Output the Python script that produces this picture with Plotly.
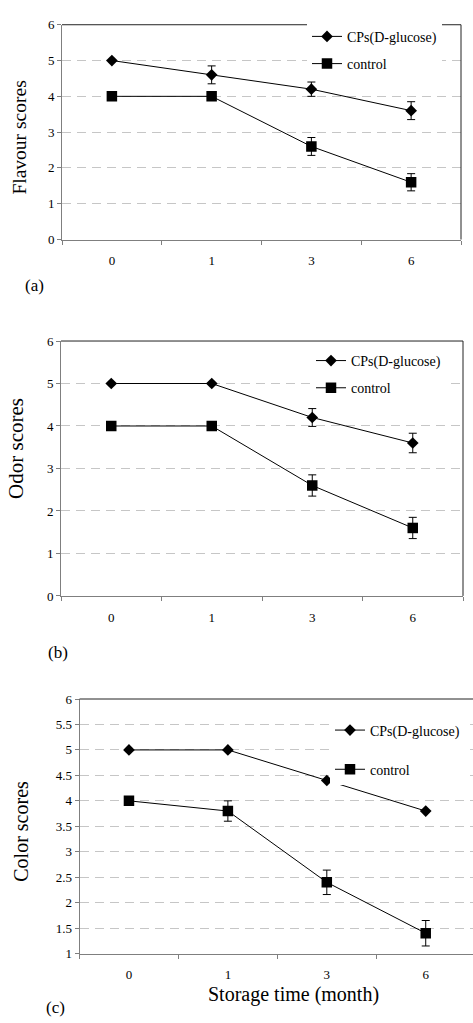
import plotly.graph_objects as go

W, H = 473, 1023

months = ["0", "1", "3", "6"]

flav_cp = [5.0, 4.6, 4.2, 3.6]
flav_cp_err = [0, 0.25, 0.2, 0.25]
flav_ctrl = [4.0, 4.0, 2.6, 1.6]
flav_ctrl_err = [0, 0, 0.25, 0.24]

odor_cp = [5.0, 5.0, 4.2, 3.6]
odor_cp_err = [0, 0, 0.21, 0.23]
odor_ctrl = [4.0, 4.0, 2.6, 1.6]
odor_ctrl_err = [0, 0, 0.25, 0.25]

color_cp = [5.0, 5.0, 4.4, 3.8]
color_cp_err = [0, 0, 0, 0]
color_ctrl = [4.0, 3.8, 2.4, 1.4]
color_ctrl_err = [0, 0.2, 0.24, 0.25]

series_names = ["CPs(D-glucose)", "control"]
y_titles = ["Flavour scores", "Odor scores", "Color scores"]
panel_tags = ["(a)", "(b)", "(c)"]
x_title = "Storage time (month)"

FONT = "Liberation Serif, Times New Roman, Times, DejaVu Serif, serif"
AXIS_GRAY = "#7f7f7f"
GRID = "#c6c6c6"


def px_x(p):
    return p / W


def px_y(p):
    return 1 - p / H


fig = go.Figure()

panels = [
    (flav_cp, flav_cp_err, flav_ctrl, flav_ctrl_err),
    (odor_cp, odor_cp_err, odor_ctrl, odor_ctrl_err),
    (color_cp, color_cp_err, color_ctrl, color_ctrl_err),
]

for i, (cp, cpe, ct, cte) in enumerate(panels):
    sfx = "" if i == 0 else str(i + 1)
    leg = "legend" + sfx
    fig.add_trace(go.Scatter(
        x=months, y=cp, name=series_names[0], mode="lines+markers",
        xaxis="x" + sfx, yaxis="y" + sfx, legend=leg, legendgroup=f"cp{i}",
        line=dict(color="black", width=1),
        marker=dict(symbol="diamond", size=9, color="black"),
        error_y=dict(type="data", array=cpe, visible=True, color="black",
                     thickness=1, width=4),
    ))
    fig.add_trace(go.Scatter(
        x=months, y=ct, name=series_names[1], mode="lines+markers",
        xaxis="x" + sfx, yaxis="y" + sfx, legend=leg, legendgroup=f"ct{i}",
        line=dict(color="black", width=1),
        marker=dict(symbol="square", size=10.5, color="black"),
        error_y=dict(type="data", array=cte, visible=True, color="black",
                     thickness=1, width=4),
    ))

xdomains = [[px_x(62), px_x(461)], [px_x(61), px_x(463)], [px_x(79.5), 1.0]]
xranges = [[-0.5, 3.5], [-0.5, 3.5], [-0.5, 3.478]]
ydomains = [[px_y(236), px_y(18)], [px_y(597.7), px_y(339)], [px_y(960.7), px_y(702.3)]]
yranges = [[0, 6], [0, 6], [1, 6]]
ydticks = [1, 1, 0.5]

layout = dict(
    width=W, height=H, margin=dict(l=0, r=0, t=0, b=0),
    paper_bgcolor="white", plot_bgcolor="white",
    font=dict(family=FONT, color="black", size=13),
    showlegend=True,
)

for i in range(3):
    sfx = "" if i == 0 else str(i + 1)
    layout["xaxis" + sfx] = dict(
        domain=xdomains[i], range=xranges[i], type="category",
        anchor="y" + sfx, showgrid=False, zeroline=False,
        showline=True, linecolor=AXIS_GRAY, linewidth=1,
        ticks="outside", ticklen=4, tickcolor=AXIS_GRAY, tickson="boundaries",
        ticklabelstandoff=9,
        tickfont=dict(family=FONT, size=13, color="black"),
        categoryorder="array", categoryarray=months, fixedrange=True,
    )
    layout["yaxis" + sfx] = dict(
        domain=ydomains[i], range=yranges[i], anchor="x" + sfx,
        dtick=ydticks[i], tick0=0,
        showgrid=True, gridcolor=GRID, griddash="9px,6px", gridwidth=1,
        zeroline=False, showline=True, linecolor=AXIS_GRAY, linewidth=1,
        ticks="outside", ticklen=4, tickcolor=AXIS_GRAY,
        tickfont=dict(family=FONT, size=13, color="black"),
        fixedrange=True,
    )

legend_pos = [(307, 14), (311, 343), (330, 718)]
legend_gaps = [6, 6, 18]
for i in range(3):
    sfx = "" if i == 0 else str(i + 1)
    lx, ly = legend_pos[i]
    layout["legend" + sfx] = dict(
        x=px_x(lx), y=px_y(ly), xanchor="left", yanchor="top",
        bgcolor="white", borderwidth=0, itemwidth=30,
        traceorder="grouped", tracegroupgap=legend_gaps[i],
        font=dict(family=FONT, size=14, color="black"),
    )

fig.update_layout(**layout)

# top / right frame lines (darker than axis lines)
for i in range(3):
    sfx = "" if i == 0 else str(i + 1)
    fig.add_shape(type="line", xref=f"x{sfx} domain", yref=f"y{sfx} domain",
                  x0=0, x1=1, y0=1, y1=1, line=dict(color="#222222", width=1))
    if i < 2:
        fig.add_shape(type="line", xref=f"x{sfx} domain", yref=f"y{sfx} domain",
                      x0=1, x1=1, y0=0, y1=1, line=dict(color="#222222", width=1))

# axis titles
ytitle_pos = [(19.5, 133, 19.5), (16.5, 448, 21), (21, 837, 20)]
for i in range(3):
    tx, ty, fs = ytitle_pos[i]
    fig.add_annotation(text=y_titles[i], x=px_x(tx), y=px_y(ty), xref="paper", yref="paper",
                       textangle=-90, showarrow=False, xanchor="center", yanchor="middle",
                       font=dict(family=FONT, size=fs, color="black"))

fig.add_annotation(text=x_title, x=px_x(293), y=px_y(1002), xref="paper", yref="paper",
                   showarrow=False, xanchor="center", yanchor="middle",
                   font=dict(family=FONT, size=20, color="black"))

tag_pos = [(34.5, 283), (58, 655), (55, 1015)]
for i in range(3):
    tx, ty = tag_pos[i]
    fig.add_annotation(text=panel_tags[i], x=px_x(tx), y=px_y(ty), xref="paper", yref="paper",
                       showarrow=False, xanchor="center", yanchor="middle",
                       font=dict(family=FONT, size=17, color="black"))

fig.write_html(
    "out.html",
    config={"displayModeBar": False, "staticPlot": False},
    post_script="document.body.style.margin='0px';document.body.style.overflow='hidden';",
)
